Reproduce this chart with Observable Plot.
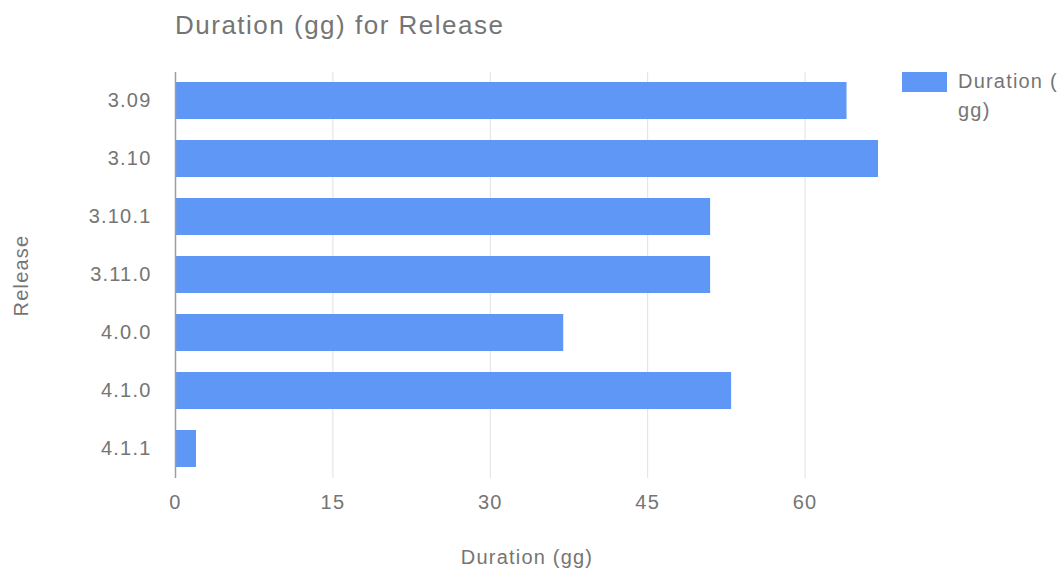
<!DOCTYPE html>
<html>
<head>
<meta charset="utf-8">
<script src="https://cdn.jsdelivr.net/npm/d3@7"></script>
<script src="https://cdn.jsdelivr.net/npm/@observablehq/plot@0.6"></script>
<style>
  html, body { margin: 0; padding: 0; background: #fff; }
  #wrap { position: relative; width: 1064px; height: 572px; font-family: Arial, "Liberation Sans", sans-serif; color: #757575; }
  #title { position: absolute; left: 175px; top: 12px; font-size: 26px; line-height: 26px; letter-spacing: 1.5px; white-space: nowrap; }
  #legend { position: absolute; left: 902px; top: 72px; }
  #legend .swatch { position: absolute; left: 0; top: 0; width: 45px; height: 20px; background: #5e97f6; }
  #legend .label { position: absolute; left: 56px; top: -5px; font-size: 20px; line-height: 29px; letter-spacing: 1.2px; white-space: nowrap; }
  #chart svg text { letter-spacing: 1.2px; }
</style>
</head>
<body>
<div id="wrap">
  <div id="title">Duration (gg) for Release</div>
  <div id="chart"></div>
  <div id="legend"><div class="swatch"></div><div class="label">Duration (<br>gg)</div></div>
</div>
<script>
// Release versions, top to bottom
const releases = ["3.09", "3.10", "3.10.1", "3.11.0", "4.0.0", "4.1.0", "4.1.1"];
// Duration in days (gg) for each release
const durations = [64, 67, 51, 51, 37, 53, 2];
// Value-axis ticks
const xTicks = [0, 15, 30, 45, 60];

const rows = releases.map((r, i) => ({release: r, duration: durations[i]}));

const chart = Plot.plot({
  width: 1064,
  height: 572,
  marginTop: 72,
  marginBottom: 94,
  marginLeft: 175,
  marginRight: 186,
  style: {fontFamily: "Arial, 'Liberation Sans', sans-serif", fontSize: "20px", color: "#757575", background: "transparent"},
  x: {domain: [0, 67], ticks: xTicks},
  y: {domain: releases, paddingInner: 0.36, paddingOuter: 0.18},
  marks: [
    Plot.ruleX(xTicks.filter(d => d > 0), {stroke: "#e0e0e0", strokeWidth: 1}),
    Plot.barX(rows, {x: "duration", y: "release", fill: "#5e97f6"}),
    Plot.ruleX([0], {stroke: "#9e9e9e", strokeWidth: 1.5}),
    Plot.axisX({ticks: xTicks, tickSize: 0, tickPadding: 16, tickFormat: d => String(d),
      label: "Duration (gg)", labelAnchor: "center", labelArrow: "none", labelOffset: 85, fill: "#757575"}),
    Plot.axisY({tickSize: 0, tickPadding: 24, label: "Release", labelAnchor: "center",
      labelArrow: "none", labelOffset: 162, fill: "#757575"})
  ]
});
document.getElementById("chart").appendChild(chart);
</script>
</body>
</html>
